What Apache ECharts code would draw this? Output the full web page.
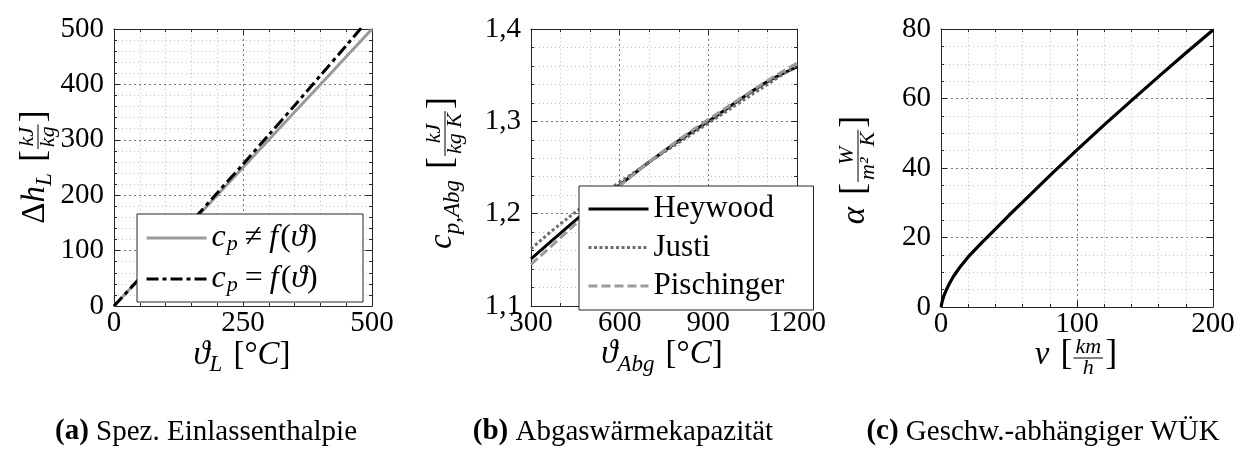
<!DOCTYPE html>
<html><head><meta charset="utf-8">
<script src="https://cdn.jsdelivr.net/npm/echarts@6/dist/echarts.min.js"></script>
<style>html,body{margin:0;padding:0;background:#fff}#c{width:1247px;height:450px}</style>
</head><body><div id="c"></div>
<script>
// ---------- data (a) Spez. Einlassenthalpie ----------
const tempL = [0, 50, 100, 150, 200, 250, 300, 350, 400, 450, 500];
const dhConst = [0, 50, 100, 150, 200, 250, 300, 350, 400, 450, 500];
const dhVar = [0, 50.3, 101, 152, 204, 256, 309, 362, 416, 470, 525];
// ---------- data (b) Abgaswärmekapazität ----------
const tempAbg = [300, 400, 500, 600, 700, 800, 900, 1000, 1100, 1200];
const cpHeywood = [1.151, 1.179, 1.206, 1.231, 1.256, 1.279, 1.300, 1.322, 1.343, 1.359];
const cpJusti = [1.162, 1.189, 1.213, 1.234, 1.256, 1.277, 1.298, 1.319, 1.340, 1.361];
const cpPischinger = [1.145, 1.174, 1.203, 1.230, 1.256, 1.280, 1.302, 1.323, 1.344, 1.363];
// ---------- data (c) Geschw.-abhängiger WÜK ----------
const speed = [0, 1, 2, 4, 6, 9, 14, 20, 30, 40, 50, 60, 80, 100, 120, 140, 160, 180, 200];
const alpha = [0, 1.8, 3.1, 5.0, 6.6, 8.7, 11.5, 14.4, 18.5, 22.4, 26.4, 30.2, 37.8, 45.2, 52.4, 59.4, 66.3, 73.1, 79.7];
// ---------- texts ----------
const legendA = ['cpConst', 'cpVar'];
const legendB = ['Heywood', 'Justi', 'Pischinger'];
const captions = [
  '{b|(a)} Spez. Einlassenthalpie',
  '{b|(b)} Abgaswärmekapazität',
  '{b|(c)} Geschw.-abhängiger WÜK'
];

const FF = '"Liberation Serif", "Times New Roman", serif';
const AX = '#262626';

const mctx = document.createElement('canvas').getContext('2d');
function fontStr(s, it) { return (it ? 'italic ' : '') + s + 'px ' + FF; }
function tw(t, s, it) { mctx.font = fontStr(s, it); return mctx.measureText(t).width; }
function txt(t, x, baseY, s, it, align) {
  return { type: 'text', x: x, y: baseY - 0.34 * s, silent: true,
    style: { text: t, font: fontStr(s, it), fill: '#000', align: align || 'left', verticalAlign: 'middle' } };
}
function mathGroup(parts, cx, cy, rot) {
  let x = 0; const kids = [];
  parts.forEach(p => {
    if (p.gap) { x += p.gap; return; }
    if (p.num !== undefined) {
      const fw = Math.max(tw(p.num, p.s, true), tw(p.den, p.s, true)) + 6;
      const bar = -9;
      kids.push(txt(p.num, x + fw / 2, bar - 3, p.s, true, 'center'));
      kids.push(txt(p.den, x + fw / 2, bar + 2 + 0.7 * p.s, p.s, true, 'center'));
      kids.push({ type: 'line', silent: true, shape: { x1: x + 1, y1: bar, x2: x + fw - 1, y2: bar },
        style: { stroke: '#000', lineWidth: 1 } });
      x += fw + 1; return;
    }
    kids.push(txt(p.t, x, p.dy || 0, p.s, !!p.it));
    x += tw(p.t, p.s, !!p.it) + (p.after || 0);
  });
  kids.forEach(k => {
    if (k.type === 'line') { k.shape.x1 -= x / 2; k.shape.x2 -= x / 2; } else k.x -= x / 2;
  });
  return { type: 'group', x: cx, y: cy, rotation: rot ? Math.PI / 2 : 0, children: kids };
}

function axes(dim, gi, min, max, interval, minorSplit, fmt) {
  const base = {
    type: 'value', gridIndex: gi, min: min, max: max, interval: interval,
    axisLine: { show: true, onZero: false, lineStyle: { color: AX, width: 1 } },
    axisTick: { show: true, inside: true, length: 6, lineStyle: { color: AX, width: 1 } },
    minorTick: { show: true, splitNumber: minorSplit, length: 3, lineStyle: { color: AX, width: 1 } }
  };
  const prim = Object.assign({}, base, {
    position: dim === 'x' ? 'bottom' : 'left',
    splitLine: { show: true, lineStyle: { color: '#777', type: [2, 3], width: 1 } },
    minorSplitLine: { show: true, lineStyle: { color: '#c4c4c4', type: [1, 3], width: 1 } },
    axisLabel: { show: true, fontSize: 29, fontFamily: FF, color: '#000', margin: dim === 'x' ? 3 : 10,
      showMinLabel: true, showMaxLabel: true, formatter: fmt || (v => String(v)) }
  });
  const sec = Object.assign({}, base, {
    position: dim === 'x' ? 'top' : 'right',
    splitLine: { show: false }, minorSplitLine: { show: false }, axisLabel: { show: false }
  });
  return [prim, sec];
}
const commaFmt = v => v.toFixed(1).replace('.', ',');

const xAxes = [].concat(
  axes('x', 0, 0, 500, 250, 5),
  axes('x', 1, 300, 1200, 300, 3),
  axes('x', 2, 0, 200, 100, 5)
);
const yAxes = [].concat(
  axes('y', 0, 0, 500, 100, 5),
  axes('y', 1, 1.1, 1.4, 0.1, 5, commaFmt),
  axes('y', 2, 0, 80, 20, 4)
);

function pairs(xs, ys) { return xs.map((x, i) => [x, ys[i]]); }

const series = [
  { type: 'line', name: 'cpConst', xAxisIndex: 0, yAxisIndex: 0, data: pairs(tempL, dhConst),
    symbol: 'none', clip: true, itemStyle: { color: '#9a9a9a' }, lineStyle: { color: '#9a9a9a', width: 3 } },
  { type: 'line', name: 'cpVar', xAxisIndex: 0, yAxisIndex: 0, data: pairs(tempL, dhVar), smooth: 0.3,
    symbol: 'none', clip: true, itemStyle: { color: '#000' }, lineStyle: { color: '#000', width: 3, type: [12, 4, 4, 4] } },
  { type: 'line', name: 'Heywood', xAxisIndex: 2, yAxisIndex: 2, data: pairs(tempAbg, cpHeywood), smooth: 0.4,
    symbol: 'none', itemStyle: { color: '#000' }, lineStyle: { color: '#000', width: 3 } },
  { type: 'line', name: 'Justi', xAxisIndex: 2, yAxisIndex: 2, data: pairs(tempAbg, cpJusti), smooth: 0.4,
    symbol: 'none', itemStyle: { color: '#6e6e6e' }, lineStyle: { color: '#6e6e6e', width: 3, type: [3, 2.5] } },
  { type: 'line', name: 'Pischinger', xAxisIndex: 2, yAxisIndex: 2, data: pairs(tempAbg, cpPischinger), smooth: 0.4,
    symbol: 'none', itemStyle: { color: '#9a9a9a' }, lineStyle: { color: '#9a9a9a', width: 3, type: [9, 4] } },
  { type: 'line', name: 'alpha', xAxisIndex: 4, yAxisIndex: 4, data: pairs(speed, alpha),
    symbol: 'none', itemStyle: { color: '#000' }, lineStyle: { color: '#000', width: 3.2, join: 'round' } }
];

const LS = 32; // legend math size
const legendTextA = {
  fontFamily: FF, fontSize: LS, color: '#000', lineHeight: 32,
  rich: {
    i: { fontFamily: FF, fontSize: LS, fontStyle: 'italic', lineHeight: 32 },
    f: { fontFamily: FF, fontSize: LS, fontStyle: 'italic', lineHeight: 32, padding: [0, 2, 0, 0] },
    s: { fontFamily: FF, fontSize: 22, fontStyle: 'italic', lineHeight: 20, padding: [12, 0, 0, 1] },
    o: { fontFamily: FF, fontSize: LS, lineHeight: 32, padding: [0, 7, 0, 7] },
    r: { fontFamily: FF, fontSize: LS, lineHeight: 32 }
  }
};
// approximate legend (a) text width for the box size
const wA = tw('c', LS, true) + tw('p', 22, true) + 1 + tw('≠', LS) + 14 + tw('f', LS, true) + 2 +
  tw('(', LS) + tw('ϑ', LS, true) + tw(')', LS);
const LBS = 31;
const wB = Math.max(...legendB.map(n => tw(n, LBS)));

const legendBase = {
  orient: 'vertical', itemWidth: 60, itemHeight: 12, backgroundColor: '#fff',
  borderColor: AX, borderWidth: 1, borderRadius: 0, selectedMode: false,
  itemStyle: { opacity: 0, borderWidth: 0 }, lineStyle: { width: 3 }
};
const legends = [
  Object.assign({}, legendBase, {
    data: legendA, left: 137, top: 214, itemGap: 7,
    padding: [7, Math.max(4, 225 - 8 - 65 - wA - 1), 6, 8], textStyle: legendTextA,
    formatter: n => n === 'cpConst'
      ? '{i|c}{s|p}{o|≠}{f|f}{r|(}{i|ϑ}{r|)}'
      : '{i|c}{s|p}{o|=}{f|f}{r|(}{i|ϑ}{r|)}'
  }),
  Object.assign({}, legendBase, {
    data: legendB, left: 579, top: 186, itemGap: 6.5,
    padding: [7, Math.max(4, 234 - 8 - 65 - wB - 1), 8, 8],
    textStyle: { fontFamily: FF, fontSize: LBS, color: '#000', lineHeight: 32 }
  })
];

const M = 33, SB = 23, FR = 22, BR = 36;
const graphics = [
  mathGroup([{ t: 'Δ', s: M }, { t: 'h', s: M, it: 1 }, { t: 'L', s: SB, it: 1, dy: 6 }, { gap: 11 },
    { t: '[', s: BR }, { num: 'kJ', den: 'kg', s: FR }, { t: ']', s: BR }], 47, 167, true),
  mathGroup([{ t: 'c', s: M, it: 1 }, { t: 'p,Abg', s: SB, it: 1, dy: 7 }, { gap: 11 },
    { t: '[', s: BR }, { num: 'kJ', den: 'kg K', s: FR }, { t: ']', s: BR }], 454, 173, true),
  mathGroup([{ t: 'α', s: M, it: 1 }, { gap: 12 },
    { t: '[', s: BR }, { num: 'W', den: 'm²  K', s: FR }, { t: ']', s: BR }], 867, 170, true),
  mathGroup([{ t: 'ϑ', s: M, it: 1 }, { t: 'L', s: SB, it: 1, dy: 6 }, { gap: 11 },
    { t: '[°', s: M }, { t: 'C', s: M, it: 1 }, { t: ']', s: M }], 242, 367, false),
  mathGroup([{ t: 'ϑ', s: M, it: 1 }, { t: 'Abg', s: SB, it: 1, dy: 7 }, { gap: 11 },
    { t: '[°', s: M }, { t: 'C', s: M, it: 1 }, { t: ']', s: M }], 662, 366, false),
  mathGroup([{ t: 'v', s: M, it: 1 }, { gap: 11 },
    { t: '[', s: BR }, { num: 'km', den: 'h', s: FR }, { t: ']', s: BR }], 1076, 367, false)
];
const capX = [206, 623, 1043];
captions.forEach((c, i) => {
  graphics.push({ type: 'text', x: capX[i], y: 432, silent: true,
    style: { text: c, fontFamily: FF, fontSize: 29, fill: '#000', align: 'center', verticalAlign: 'middle',
      rich: { b: { fontFamily: FF, fontSize: 29, fontWeight: 'bold' } } } });
});

const chart = echarts.init(document.getElementById('c'), null, { renderer: 'canvas' });
chart.setOption({
  animation: false,
  backgroundColor: '#fff',
  grid: [
    { left: 114, top: 29, width: 258, height: 277 },
    { left: 531, top: 29, width: 266, height: 277 },
    { left: 941, top: 29, width: 272, height: 278 }
  ],
  xAxis: xAxes,
  yAxis: yAxes,
  legend: legends,
  series: series,
  graphic: graphics
});
</script></body></html>
